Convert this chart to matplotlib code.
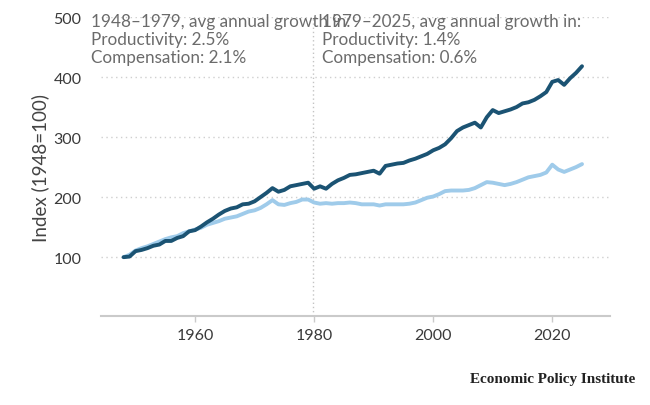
import numpy as np
import matplotlib
matplotlib.use("Agg")
import matplotlib.pyplot as plt

plt.rcParams['font.family'] = ['Lato', 'DejaVu Sans']

# yearly index values (1948 = 100)
years = np.arange(1948, 2026)
productivity = [
    100, 101, 110, 112, 115, 119, 121, 127, 127, 132,
    135, 143, 145, 151, 158, 164, 171, 177, 181, 183,
    188, 189, 193, 200, 207, 215, 209, 212, 218, 220,
    222, 224, 214, 218, 214, 222, 228, 232, 237, 238,
    240, 242, 244, 239, 252, 254, 256, 257, 261, 264,
    268, 272, 278, 282, 288, 298, 310, 316, 320, 324,
    316, 333, 345, 340, 343, 346, 350, 356, 358, 362,
    368, 375, 392, 395, 387, 398, 407, 418,
]
compensation = [
    100, 104, 111, 115, 118, 122, 126, 130, 133, 135,
    140, 143, 146, 149, 154, 157, 160, 164, 166, 168,
    172, 176, 178, 182, 188, 195, 188, 187, 190, 192,
    196, 196, 191, 189, 190, 189, 190, 190, 191, 190,
    188, 188, 188, 186, 188, 188, 188, 188, 189, 191,
    195, 199, 201, 205, 210, 211, 211, 211, 212, 215,
    220, 225, 224, 222, 220, 222, 225, 229, 233, 235,
    237, 241, 254, 246, 242, 246, 250, 255,
]

y_ticks = [100, 200, 300, 400, 500]
x_ticks = [1960, 1980, 2000, 2020]
split_year = 1979.8

left_note = "1948\u20131979, avg annual growth in:\nProductivity: 2.5%\nCompensation: 2.1%"
right_note = "1979\u20132025, avg annual growth in:\nProductivity: 1.4%\nCompensation: 0.6%"

fig = plt.figure(figsize=(6.5, 4.06), dpi=100)
ax = fig.add_axes([101 / 650, 89 / 406, 509 / 650, 299 / 406])

ax.plot(years, compensation, color='#9fcbea', lw=2.8, solid_capstyle='round', zorder=3)
ax.plot(years, productivity, color='#1b5373', lw=2.8, solid_capstyle='round', zorder=4)

ax.axvline(split_year, color='#c4c4c4', lw=1, ls=(0, (1, 2)), zorder=1)

ax.set_xlim(1944.2, 2029.7)
ax.set_ylim(2, 500)
ax.set_yticks(y_ticks)
ax.set_xticks(x_ticks)
ax.grid(axis='y', color='#cfcfcf', lw=1, ls=(0, (1, 2.5)))
ax.set_axisbelow(True)

for s in ['top', 'right', 'left']:
    ax.spines[s].set_visible(False)
ax.spines['bottom'].set_color('#cacaca')
ax.spines['bottom'].set_linewidth(1.5)

ax.tick_params(axis='y', length=0, pad=14, labelsize=11.5, labelcolor='#3a3a3a')
ax.tick_params(axis='x', length=4, width=1, color='#cacaca', pad=5,
               labelsize=11.5, labelcolor='#3a3a3a')
ax.set_ylabel('Index (1948=100)', fontsize=13.5, color='#444444')
ax.yaxis.set_label_coords(-0.101, 0.5)

fig.text(91 / 650, 1 - 14 / 406, left_note, va='top', ha='left',
         fontsize=12.3, color='#6b6b6b', linespacing=1.17)
fig.text(322 / 650, 1 - 14 / 406, right_note, va='top', ha='left',
         fontsize=12.3, color='#6b6b6b', linespacing=1.17)

fig.text(635 / 650, 1 - 380 / 406, 'Economic Policy Institute', ha='right', va='center',
         fontsize=10.9, fontweight='bold', family=['Liberation Serif', 'DejaVu Serif'],
         color='#222222')

fig.savefig('out.png', dpi=100)
